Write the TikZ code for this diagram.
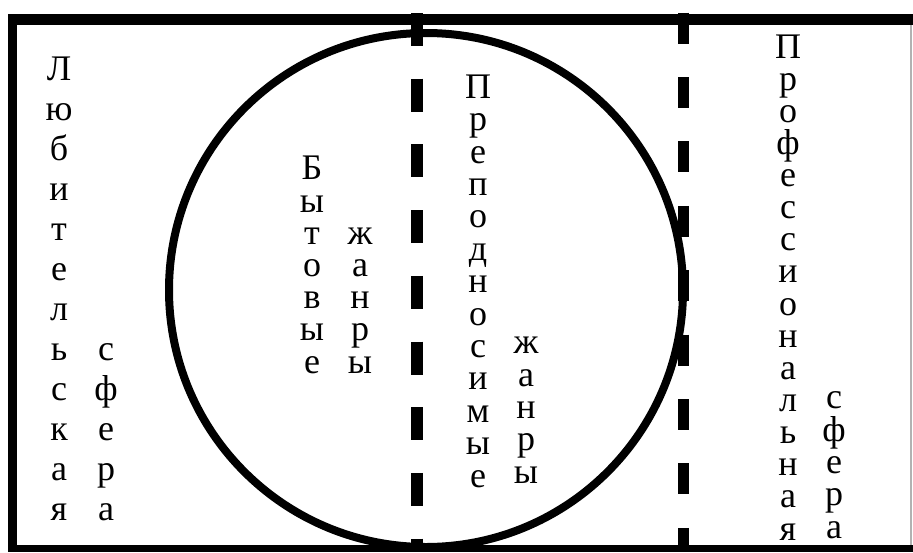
\documentclass[tikz,border=0pt]{standalone}
\usepackage{fontspec}
\setmainfont{Liberation Serif}
\usepackage{tikz}
\usetikzlibrary{positioning}
\newcommand{\stackfont}[1]{\fontsize{36pt}{#1pt}\selectfont\lineskiplimit=-100pt\relax}
\tikzset{
	stack/.style={inner sep=0pt, anchor=base, align=center, font=\stackfont{#1}},
	frameline/.style={line width=#1, black},
	ringline/.style={line width=8pt, black},
	splitline/.style={line width=12pt, black, dash pattern=on 33pt off 32.7pt},
}

\begin{document}
\begin{tikzpicture}[
				x=1pt, y=-1pt,
				edgeline/.style={line width=2pt, gray!60}
				]
				\useasboundingbox (0,0) rectangle (913,552);
				\fill[white] (0,0) rectangle (913,552);
				\coordinate (tl) at (8,19.5);
				\coordinate (tr) at (913,19.5);
				\coordinate (lt) at (12.5,14);
				\coordinate (lb) at (12.5,552);
				\coordinate (bl) at (8,548.5);
				\coordinate (br) at (913,548.5);
				\coordinate (rt) at (911,14);
				\coordinate (rb) at (911,552);
				\draw[edgeline] (rt) -- (rb);
				\draw[frameline=11pt] (tl) -- (tr);
				\draw[frameline=9pt] (lt) -- (lb);
				\draw[frameline=7pt] (bl) -- (br);
				\draw[ringline] (426,290) circle (257pt);
				\coordinate (s1t) at (416.5,13);
				\coordinate (s1b) at (416.5,552);
				\coordinate (s2t) at (683,12.6);
				\coordinate (s2b) at (683,552);
				\draw[splitline] (s1t) -- (s1b);
				\draw[splitline, line width=11pt, dash pattern=on 31pt off 33.4pt] (s2t) -- (s2b);
				\node[stack=40] (lub) at (59,520) {Л\\ю\\б\\и\\т\\е\\л\\ь\\с\\к\\а\\я};
				\node[stack=40] (sfa) at (106,520) {с\\ф\\е\\р\\а};
				\node[stack=32.2] (byt) at (312,373) {Б\\ы\\т\\о\\в\\ы\\е};
				\node[stack=32.2] (zha) at (360,373) {ж\\а\\н\\р\\ы};
				\node[stack=32.4] (pre) at (478,487) {П\\р\\е\\п\\о\\д\\н\\о\\с\\и\\м\\ы\\е};
				\node[stack=32.3] (zhb) at (526,483) {ж\\а\\н\\р\\ы};
				\node[stack=32.13] (pro) at (788,540) {П\\р\\о\\ф\\е\\с\\с\\и\\о\\н\\а\\л\\ь\\н\\а\\я};
				\node[stack=32.3] (sfb) at (834,538) {с\\ф\\е\\р\\а};
			\end{tikzpicture}
\end{document}
